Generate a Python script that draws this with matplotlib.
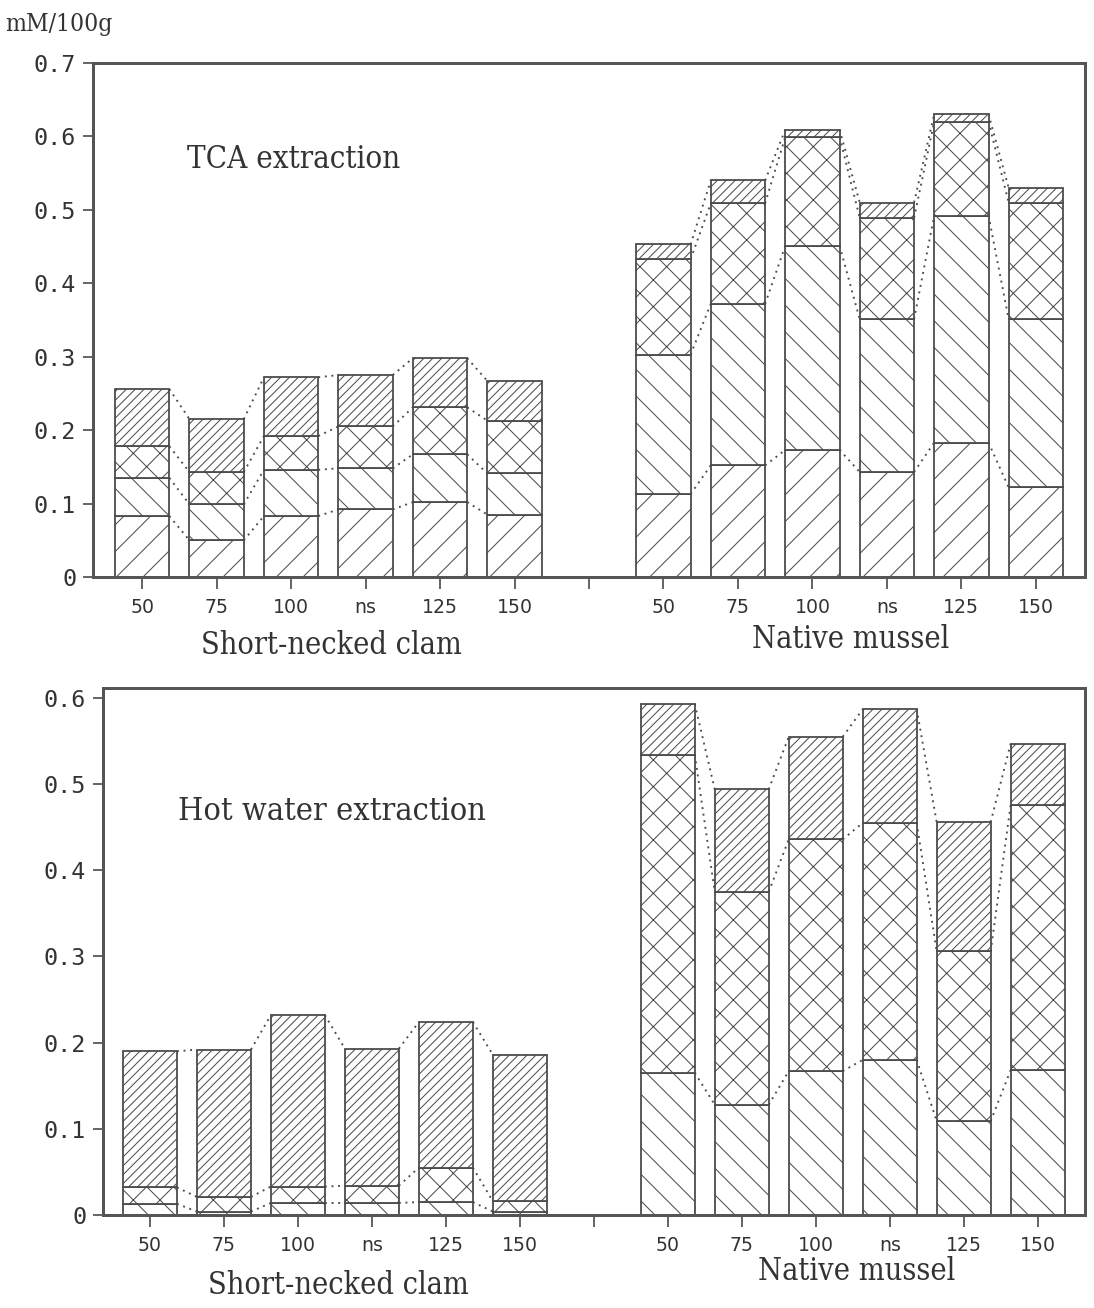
import matplotlib
matplotlib.use("Agg")
import matplotlib.pyplot as plt
import numpy as np

# sample labels (per group) and group names
labels = ["50", "75", "100", "ns", "125", "150"]
groups = ["Short-necked clam", "Native mussel"]

# TCA extraction, amount of each stacked component (mM/100g)
tca_clam_c1 = [0.083, 0.050, 0.083, 0.092, 0.102, 0.085]
tca_clam_c2 = [0.052, 0.049, 0.063, 0.056, 0.065, 0.056]
tca_clam_c3 = [0.043, 0.044, 0.046, 0.057, 0.064, 0.072]
tca_clam_c4 = [0.078, 0.072, 0.080, 0.070, 0.067, 0.054]
tca_mussel_c1 = [0.113, 0.152, 0.173, 0.143, 0.183, 0.122]
tca_mussel_c2 = [0.190, 0.220, 0.278, 0.208, 0.309, 0.229]
tca_mussel_c3 = [0.130, 0.137, 0.148, 0.138, 0.128, 0.159]
tca_mussel_c4 = [0.020, 0.031, 0.010, 0.021, 0.010, 0.020]

# Hot water extraction (no c1 component)
hot_clam_c2 = [0.013, 0.004, 0.014, 0.014, 0.015, 0.004]
hot_clam_c3 = [0.019, 0.017, 0.019, 0.020, 0.040, 0.012]
hot_clam_c4 = [0.158, 0.171, 0.199, 0.159, 0.169, 0.170]
hot_mussel_c2 = [0.165, 0.128, 0.167, 0.180, 0.109, 0.168]
hot_mussel_c3 = [0.369, 0.247, 0.269, 0.275, 0.197, 0.308]
hot_mussel_c4 = [0.059, 0.119, 0.119, 0.132, 0.150, 0.071]

hatches = ["/", "\\", "x", "///"]
ink = "#4a4a4a"
W = 0.73

plt.rcParams["hatch.linewidth"] = 0.9
plt.rcParams["font.family"] = "DejaVu Sans"

DPI = 80
fig = plt.figure(figsize=(1094 / DPI, 1308 / DPI), dpi=DPI)


def draw_panel(ax, clam, mussel, ymax, yticks, xlim):
    pos_clam = np.arange(6)
    pos_mussel = np.arange(6) + 7
    for pos, comps in [(pos_clam, clam), (pos_mussel, mussel)]:
        bottom = np.zeros(6)
        levels = []
        for vals, h in zip(comps, hatches):
            vals = np.array(vals)
            if vals.sum() > 0:
                ax.bar(pos, vals, W, bottom=bottom, facecolor="white",
                       edgecolor=ink, linewidth=1.6, hatch=h, zorder=2)
            bottom = bottom + vals
            if vals.sum() > 0:
                levels.append(bottom.copy())
        # dotted connectors between neighbouring bars
        for lev in levels:
            for i in range(5):
                ax.plot([pos[i] + W / 2, pos[i + 1] - W / 2], [lev[i], lev[i + 1]],
                        ls=(0, (1, 2.5)), color=ink, lw=1.7, zorder=1)

    ax.set_xlim(*xlim)
    ax.set_ylim(0, ymax)
    ax.set_yticks(yticks)
    ax.set_yticklabels(["0"] + ["%.1f" % v for v in yticks[1:]],
                       family="DejaVu Sans Mono", fontsize=21, color="#333333")
    ax.set_xticks(np.arange(13))
    ax.set_xticklabels(labels + [""] + labels, fontsize=17, color="#333333")
    ax.tick_params(axis="y", length=9, width=1.5, color=ink, pad=6)
    ax.tick_params(axis="x", length=11, width=1.5, color=ink, pad=8)
    for s in ax.spines.values():
        s.set_linewidth(2.7)
        s.set_color("#555555")


ax1 = fig.add_axes([93 / 1094, 1 - 577 / 1308, 992 / 1094, 514 / 1308])
draw_panel(ax1,
           [tca_clam_c1, tca_clam_c2, tca_clam_c3, tca_clam_c4],
           [tca_mussel_c1, tca_mussel_c2, tca_mussel_c3, tca_mussel_c4],
           0.7, np.round(np.arange(0, 0.71, 0.1), 1), (-0.66, 12.66))

ax2 = fig.add_axes([103 / 1094, 1 - 1215 / 1308, 982 / 1094, 527 / 1308])
zero = [0] * 6
draw_panel(ax2,
           [zero, hot_clam_c2, hot_clam_c3, hot_clam_c4],
           [zero, hot_mussel_c2, hot_mussel_c3, hot_mussel_c4],
           0.6116, np.round(np.arange(0, 0.61, 0.1), 1), (-0.635, 12.64))

serif = dict(family="DejaVu Serif", fontstretch="condensed", color="#333333")


def ftext(x, y, s, size, ha="center"):
    fig.text(x / 1094, 1 - y / 1308, s, ha=ha, va="center", fontsize=size, **serif)


ftext(5, 25, "mM/100g", 22, ha="left")
ftext(187, 160, "TCA extraction", 28, ha="left")
ftext(178, 812, "Hot water extraction", 29, ha="left")
ftext(331, 645, groups[0], 27.5)
ftext(851, 640, groups[1], 27.5)
ftext(338, 1285, groups[0], 27.5)
ftext(857, 1272, groups[1], 27.5)

fig.savefig("out.png", dpi=DPI)
